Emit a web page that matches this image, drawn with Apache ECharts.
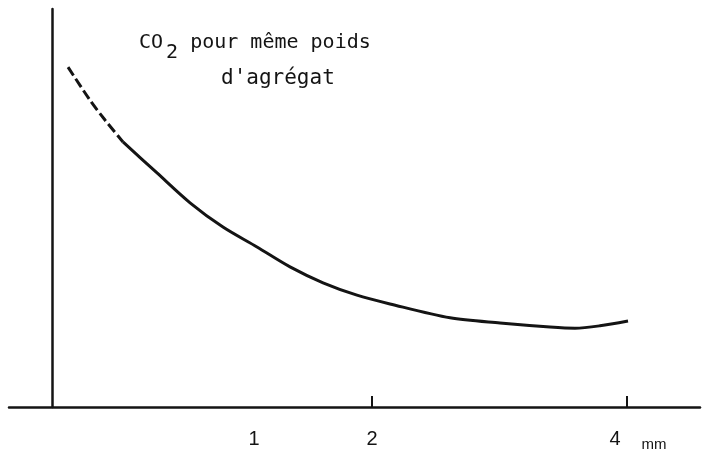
<!DOCTYPE html>
<html>
<head>
<meta charset="utf-8">
<script src="https://cdn.jsdelivr.net/npm/echarts@6/dist/echarts.min.js"></script>
<style>
  html, body { margin: 0; padding: 0; background: #fff; }
  #chart { width: 703px; height: 457px; }
</style>
</head>
<body>
<div id="chart"></div>
<script>
// Grain size (mm) and relative CO2 release for the same aggregate weight.
// The first stretch of the curve is extrapolated (dashed).
const sizeDashed = [-0.384, -0.212, -0.094, 0.047];
const co2Dashed  = [85.4, 77.1, 72.1, 66.6];
const sizeSolid  = [0.047, 0.314, 0.573, 0.831, 1.098, 1.357, 1.616, 1.882, 2.141, 2.612, 3.004, 3.396, 3.592, 3.788, 4.008];
const co2Solid   = [66.6, 58.8, 51.3, 45.2, 40.2, 35.2, 31.2, 28.1, 25.9, 22.4, 21.1, 20.1, 19.8, 20.4, 21.6];

const tickValues  = [2, 4];
const labelValues = [1, 2, 4];
const unitLabel = 'mm';

const ink = '#141414';
const mono = 'DejaVu Sans Mono';
const zip = (xs, ys) => xs.map((x, i) => [x, ys[i]]);

const chart = echarts.init(document.getElementById('chart'), null, { renderer: 'canvas' });
chart.setOption({
  backgroundColor: '#ffffff',
  animation: false,
  title: [
    {
      left: 134, top: 28,
      text: '{t|CO}{sub|2}{t| pour même poids}',
      textStyle: {
        fontWeight: 'normal',
        rich: {
          t:   { fontFamily: mono, fontSize: 20, fontWeight: 'normal', color: ink, lineHeight: 24, verticalAlign: 'top' },
          sub: { fontFamily: mono, fontSize: 20, fontWeight: 'normal', color: ink, lineHeight: 24, padding: [15, 0, 0, 3] }
        }
      }
    },
    {
      left: 216, top: 62,
      text: "d'agrégat",
      textStyle: { fontFamily: mono, fontSize: 21, fontWeight: 'normal', color: ink, lineHeight: 24 }
    }
  ],
  grid: { left: 9, right: 3, top: 9, bottom: 50 },
  xAxis: {
    type: 'value',
    min: -0.847, max: 4.5725,
    name: unitLabel,
    nameLocation: 'end',
    nameGap: -46,
    nameTextStyle: {
      fontFamily: 'Liberation Sans', fontSize: 15, color: ink,
      align: 'center', verticalAlign: 'top', padding: [30, 0, 0, 0]
    },
    axisLine: { show: true, lineStyle: { color: ink, width: 2.5 } },
    axisTick: { show: true, inside: true, length: 11, customValues: tickValues, lineStyle: { color: ink, width: 2 } },
    axisLabel: {
      show: true,
      customValues: labelValues,
      margin: 22,
      fontFamily: 'Liberation Sans', fontSize: 20, color: ink,
      formatter: v => v === 1 ? '{r|1}' : (v === 4 ? '{l|4}' : String(v)),
      rich: {
        r: { fontFamily: 'Liberation Sans', fontSize: 20, color: ink, padding: [0, 0, 0, 19] },
        l: { fontFamily: 'Liberation Sans', fontSize: 20, color: ink, padding: [0, 24, 0, 0] }
      }
    },
    splitLine: { show: false }
  },
  yAxis: {
    type: 'value',
    min: 0, max: 100,
    offset: -43,
    axisLine: { show: true, onZero: false, lineStyle: { color: ink, width: 2.5 } },
    axisTick: { show: false },
    axisLabel: { show: false },
    splitLine: { show: false }
  },
  series: [
    {
      type: 'line',
      data: zip(sizeDashed, co2Dashed),
      smooth: 0.3,
      showSymbol: false,
      lineStyle: { color: ink, width: 3, type: [10, 4] }
    },
    {
      type: 'line',
      data: zip(sizeSolid, co2Solid),
      smooth: 0.3,
      showSymbol: false,
      lineStyle: { color: ink, width: 3 }
    }
  ]
});
</script>
</body>
</html>
